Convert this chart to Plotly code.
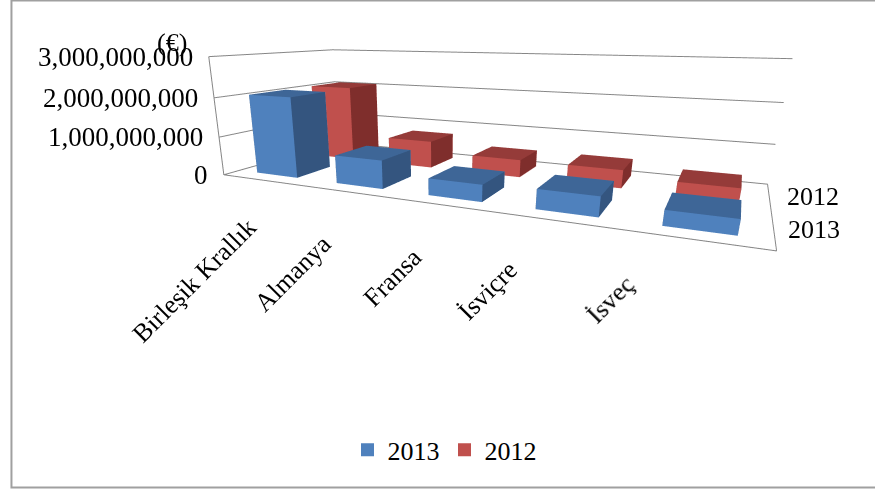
import plotly.graph_objects as go

categories = ["Birleşik Krallık", "Almanya", "Fransa", "İsviçre", "İsveç"]
series_names = ["2013", "2012"]
values_2013 = [2.05e9, 0.70e9, 0.40e9, 0.45e9, 0.33e9]
values_2012 = [2.05e9, 0.72e9, 0.45e9, 0.45e9, 0.30e9]
z_ticks = [0, 1e9, 2e9, 3e9]

FONT = "Liberation Serif"
colors = {
    "2013": ("#4F81BD", "#34557F", "#3E6697"),   # front, side, top
    "2012": ("#C0504D", "#7F2E2C", "#953B39"),
}
BW = 0.52   # bar width (category units)
BD = 0.55   # bar depth (series units)
# pixel nudges for the rotated category labels
label_shifts = [(3, -30), (-6, -35), (-13, -35), (-33, -31), (-54, -27)]
# camera / aspect chosen to mimic the perspective of the original 3-D column chart
aspect = dict(x=4.323, y=1.745, z=1)
eye = dict(x=1.802, y=-4.655, z=0.731)
center = dict(x=0.497, y=-1.990, z=-0.363)


def bar_mesh(vals, s_idx, name):
    front, side, top = colors[name]
    xs, ys, zs, I, J, K, fc = [], [], [], [], [], [], []
    for c, v in enumerate(vals):
        x0, x1 = c - BW / 2, c + BW / 2
        y0, y1 = s_idx - BD / 2, s_idx + BD / 2
        base = len(xs)
        for (x, y, z) in [(x0, y0, 0), (x1, y0, 0), (x1, y1, 0), (x0, y1, 0),
                          (x0, y0, v), (x1, y0, v), (x1, y1, v), (x0, y1, v)]:
            xs.append(x); ys.append(y); zs.append(z)
        faces = [((0, 1, 5), front), ((0, 5, 4), front), ((1, 2, 6), side), ((1, 6, 5), side),
                 ((4, 5, 6), top), ((4, 6, 7), top), ((3, 2, 6), front), ((3, 6, 7), front),
                 ((0, 3, 7), side), ((0, 7, 4), side), ((0, 1, 2), front), ((0, 2, 3), front)]
        for (a, b, d), col in faces:
            I.append(base + a); J.append(base + b); K.append(base + d); fc.append(col)
    return go.Mesh3d(x=xs, y=ys, z=zs, i=I, j=J, k=K, facecolor=fc, flatshading=True,
                     lighting=dict(ambient=1, diffuse=0, specular=0, fresnel=0, roughness=1),
                     showlegend=False, hoverinfo="skip", name=name)


fig = go.Figure()
fig.add_trace(bar_mesh(values_2013, 0, "2013"))
fig.add_trace(bar_mesh(values_2012, 1, "2012"))
for name in series_names:
    fig.add_trace(go.Scatter(x=[None], y=[None], mode="markers", name=name,
                             marker=dict(symbol="square", size=13, color=colors[name][0])))

tf = dict(family=FONT, size=26, color="black")
annots = []
for c, cat in enumerate(categories):
    annots.append(dict(x=c, y=-0.5, z=0, text=cat, textangle=-45, showarrow=False,
                       xanchor="right", yanchor="top", xshift=label_shifts[c][0], yshift=label_shifts[c][1],
                       font=tf))
for t in z_ticks:
    annots.append(dict(x=-0.5, y=-0.5, z=t, text=f"{int(t):,}", showarrow=False,
                       xanchor="right", yanchor="middle", xshift=-14,
                       font=dict(family=FONT, size=27, color="black")))
for s, nm_ in enumerate(series_names):
    annots.append(dict(x=4.5, y=s, z=0, text=nm_, showarrow=False,
                       xanchor="left", yanchor="middle", xshift=16 if s else 12, font=tf))

axis_common = dict(showbackground=False, showspikes=False, title=dict(text=""), showticklabels=False,
                   zeroline=False, showline=True, linecolor="#868686", linewidth=2, ticks="")
fig.update_layout(
    width=875, height=490, margin=dict(l=0, r=0, t=0, b=0),
    paper_bgcolor="white", plot_bgcolor="white",
    font=dict(family=FONT, size=26, color="black"),
    xaxis=dict(visible=False, domain=[0, 0.01]), yaxis=dict(visible=False, domain=[0, 0.01]),
    scene=dict(
        domain=dict(x=[0.0, 1.0], y=[0.0, 1.0]),
        xaxis=dict(range=[-0.5, 4.5], showgrid=False, **axis_common),
        yaxis=dict(range=[-0.5, 1.5], showgrid=False, tickvals=[-0.5, 0.5, 1.5], **axis_common),
        zaxis=dict(range=[0, 3e9], tickvals=z_ticks, showgrid=True, gridcolor="#868686", gridwidth=2,
                   **axis_common),
        aspectmode="manual", aspectratio=aspect,
        camera=dict(projection=dict(type="perspective"), up=dict(x=0, y=0, z=1),
                    eye=eye, center=center),
        annotations=annots,
    ),
    legend=dict(orientation="h", x=0.508, y=0.082, xanchor="center", yanchor="middle",
                font=dict(family=FONT, size=26)),
    shapes=[dict(type="rect", xref="paper", yref="paper", x0=0.0131, x1=1.01, y0=0.0051, y1=0.999,
                 line=dict(color="#a0a0a0", width=2))],
    annotations=[dict(text="(€)", xref="paper", yref="paper", x=172 / 875, y=1 - 42 / 490, showarrow=False,
                      xanchor="center", yanchor="middle", font=dict(family=FONT, size=26))],
)
fig.write_html("out.html")
